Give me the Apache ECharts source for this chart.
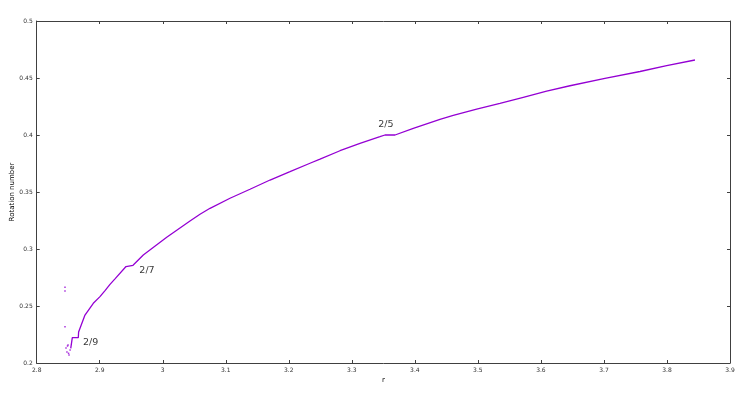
<!DOCTYPE html>
<html>
<head>
<meta charset="utf-8">
<script src="https://cdn.jsdelivr.net/npm/echarts@6/dist/echarts.min.js"></script>
<style>
html,body{margin:0;padding:0;background:#fff;}
#chart{width:748px;height:401px;}
</style>
</head>
<body>
<div id="chart"></div>
<script>
// Main curve: rotation number vs r
const rVals = [2.854, 2.8565, 2.866, 2.8665, 2.8766, 2.8898, 2.9004, 2.9084, 2.9163, 2.9242, 2.9417, 2.9425, 2.9528, 2.9691, 3.0063, 3.0432, 3.0591, 3.075, 3.1067, 3.1384, 3.1702, 3.2019, 3.2336, 3.2495, 3.2812, 3.3129, 3.3446, 3.3526, 3.3685, 3.3975, 3.4398, 3.4609, 3.4981, 3.535, 3.572, 3.6091, 3.6461, 3.7016, 3.7572, 3.7995, 3.8444];
const rhoVals = [0.2129, 0.2222, 0.2222, 0.2272, 0.2421, 0.2524, 0.2582, 0.2635, 0.269, 0.2738, 0.2846, 0.2857, 0.2857, 0.2947, 0.3103, 0.3245, 0.3305, 0.3357, 0.3445, 0.3524, 0.3605, 0.3678, 0.3752, 0.3788, 0.3862, 0.3927, 0.3985, 0.4, 0.4, 0.4059, 0.4138, 0.4172, 0.4226, 0.4278, 0.4331, 0.4384, 0.4432, 0.4497, 0.4557, 0.4608, 0.4658];
// Scattered points near the lower-left end
const scatterR = [2.8449, 2.8449, 2.8449, 2.8465, 2.848, 2.8497, 2.8513, 2.853, 2.8489, 2.8505];
const scatterRho = [0.2664, 0.2632, 0.2318, 0.2132, 0.2096, 0.2158, 0.207, 0.2114, 0.2149, 0.2085];
// Annotations
const labelText = ['2/5', '2/7', '2/9'];
const labelR = [3.3539, 2.975, 2.8857];
const labelRho = [0.4088, 0.2809, 0.2182];
// Axis ticks
const xTicks = {min: 2.8, max: 3.9, interval: 0.1};
const yTicks = {min: 0.2, max: 0.5, interval: 0.05};

const curve = rVals.map((r, i) => [r, rhoVals[i]]);
const dots = scatterR.map((r, i) => [r, scatterRho[i]]);
const labels = labelText.map((t, i) => ({name: t, value: [labelR[i], labelRho[i]]}));

const FONT = 'DejaVu Sans';
const axisCol = '#404040';
const purple = '#9400d3';

const chart = echarts.init(document.getElementById('chart'), null, {renderer: 'canvas'});
const baseAxis = {
  axisLine: {show: true, onZero: false, lineStyle: {color: axisCol, width: 1}},
  axisTick: {show: true, inside: true, length: 3, lineStyle: {color: axisCol, width: 1}},
  splitLine: {show: false}
};
chart.setOption({
  animation: false,
  backgroundColor: '#fff',
  grid: {left: 36.7, right: 18, top: 21, bottom: 38, containLabel: false, outerBoundsMode: 'none'},
  xAxis: [
    Object.assign({}, baseAxis, {
      type: 'value', position: 'bottom', min: xTicks.min, max: xTicks.max, interval: xTicks.interval,
      name: 'r', nameLocation: 'middle', nameGap: 14, nameMoveOverlap: false,
      nameTextStyle: {fontFamily: FONT, fontSize: 7, color: '#000'},
      axisLabel: {fontFamily: FONT, fontSize: 6, color: '#333', margin: 4}
    }),
    Object.assign({}, baseAxis, {
      type: 'value', position: 'top', min: xTicks.min, max: xTicks.max, interval: xTicks.interval,
      axisLabel: {show: false}
    })
  ],
  yAxis: [
    Object.assign({}, baseAxis, {
      type: 'value', position: 'left', min: yTicks.min, max: yTicks.max, interval: yTicks.interval,
      name: 'Rotation number', nameLocation: 'middle', nameGap: 21, nameMoveOverlap: false,
      nameTextStyle: {fontFamily: FONT, fontSize: 7, color: '#000'},
      axisLabel: {fontFamily: FONT, fontSize: 6, color: '#333', margin: 4}
    }),
    Object.assign({}, baseAxis, {
      type: 'value', position: 'right', min: yTicks.min, max: yTicks.max, interval: yTicks.interval,
      axisLabel: {show: false}
    })
  ],
  series: [
    {
      type: 'line', data: curve, showSymbol: false, smooth: false,
      lineStyle: {color: purple, width: 1.3}, itemStyle: {color: purple}
    },
    {
      type: 'scatter', data: dots, symbol: 'rect', symbolSize: [1.5, 1.5],
      itemStyle: {color: purple}
    },
    {
      type: 'scatter', data: labels, symbolSize: 0,
      label: {show: true, position: 'inside', formatter: p => p.name,
        fontFamily: FONT, fontSize: 9.5, color: '#000'}
    }
  ]
});
</script>
</body>
</html>
